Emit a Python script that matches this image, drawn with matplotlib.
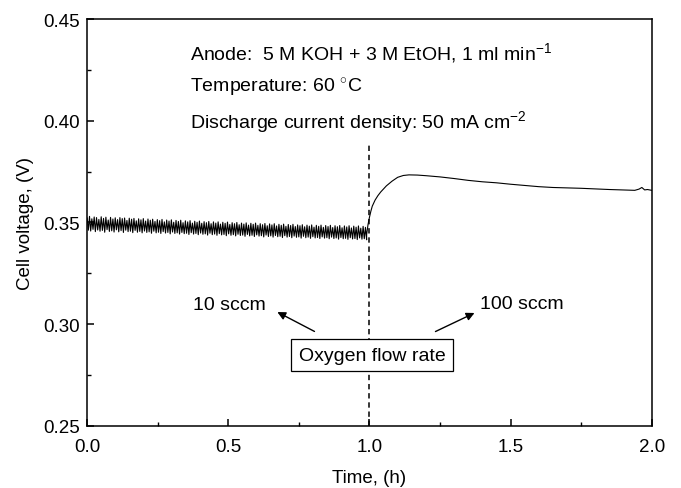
import numpy as np
import matplotlib
matplotlib.use("Agg")
import matplotlib.pyplot as plt
from matplotlib.ticker import MultipleLocator

plt.rcParams['font.family'] = ['Liberation Sans', 'DejaVu Sans']
plt.rcParams['mathtext.fontset'] = 'custom'
plt.rcParams['mathtext.rm'] = 'Liberation Sans'
plt.rcParams['mathtext.it'] = 'Liberation Sans:italic'

# 10 sccm period: noisy voltage (0 - 0.99 h)
noisy_v = [
    0.3522, 0.3462, 0.3530, 0.3458, 0.3518, 0.3466, 0.3527, 0.3455, 0.3524, 0.3463,
    0.3515, 0.3457, 0.3528, 0.3461, 0.3520, 0.3452, 0.3526, 0.3465, 0.3512, 0.3456,
    0.3525, 0.3459, 0.3517, 0.3453, 0.3523, 0.3464, 0.3514, 0.3454, 0.3524, 0.3460,
    0.3519, 0.3451, 0.3522, 0.3462, 0.3510, 0.3455, 0.3521, 0.3457, 0.3516, 0.3450,
    0.3520, 0.3461, 0.3508, 0.3452, 0.3518, 0.3456, 0.3513, 0.3449, 0.3519, 0.3458,
    0.3507, 0.3451, 0.3517, 0.3454, 0.3511, 0.3447, 0.3516, 0.3457, 0.3505, 0.3449,
    0.3514, 0.3452, 0.3509, 0.3446, 0.3515, 0.3455, 0.3503, 0.3448, 0.3512, 0.3451,
    0.3507, 0.3444, 0.3513, 0.3453, 0.3501, 0.3446, 0.3510, 0.3449, 0.3505, 0.3443,
    0.3511, 0.3451, 0.3499, 0.3445, 0.3508, 0.3447, 0.3503, 0.3441, 0.3509, 0.3450,
    0.3497, 0.3443, 0.3506, 0.3446, 0.3501, 0.3440, 0.3507, 0.3448, 0.3496, 0.3442,
    0.3504, 0.3444, 0.3499, 0.3438, 0.3505, 0.3447, 0.3494, 0.3440, 0.3503, 0.3443,
    0.3497, 0.3437, 0.3503, 0.3445, 0.3492, 0.3439, 0.3501, 0.3441, 0.3496, 0.3435,
    0.3502, 0.3444, 0.3490, 0.3437, 0.3499, 0.3440, 0.3494, 0.3434, 0.3500, 0.3442,
    0.3489, 0.3436, 0.3497, 0.3438, 0.3492, 0.3432, 0.3498, 0.3441, 0.3487, 0.3434,
    0.3496, 0.3437, 0.3491, 0.3431, 0.3497, 0.3439, 0.3486, 0.3433, 0.3494, 0.3435,
    0.3489, 0.3429, 0.3495, 0.3438, 0.3484, 0.3431, 0.3493, 0.3434, 0.3488, 0.3428,
    0.3494, 0.3436, 0.3483, 0.3430, 0.3491, 0.3432, 0.3486, 0.3426, 0.3492, 0.3435,
    0.3481, 0.3428, 0.3490, 0.3431, 0.3485, 0.3425, 0.3491, 0.3433, 0.3480, 0.3427,
    0.3488, 0.3429, 0.3484, 0.3423, 0.3489, 0.3432, 0.3479, 0.3425, 0.3487, 0.3428,
    0.3482, 0.3422, 0.3488, 0.3430, 0.3477, 0.3424, 0.3486, 0.3426, 0.3481, 0.3421,
    0.3487, 0.3429, 0.3476, 0.3423, 0.3485, 0.3425, 0.3480, 0.3420, 0.3486, 0.3428,
    0.3475, 0.3421, 0.3484, 0.3424, 0.3479, 0.3418, 0.3485, 0.3426, 0.3474, 0.3420,
    0.3483, 0.3422, 0.3478, 0.3417, 0.3484, 0.3425, 0.3473, 0.3419, 0.3482, 0.3421,
    0.3477, 0.3416, 0.3483, 0.3424, 0.3472, 0.3418, 0.3481, 0.3420, 0.3476, 0.3415,
]
noisy_t = np.linspace(0.0, 0.99, len(noisy_v))

# 100 sccm period
rec_t = [0.99, 0.995, 1.0, 1.005, 1.01, 1.02, 1.03, 1.04, 1.06, 1.08, 1.1, 1.12,
         1.14, 1.17, 1.2, 1.25, 1.3, 1.35, 1.4, 1.45, 1.5, 1.55, 1.6, 1.65, 1.7,
         1.75, 1.8, 1.85, 1.9, 1.94, 1.955, 1.965, 1.975, 1.985, 2.0]
rec_v = [0.3440, 0.3490, 0.3525, 0.3555, 0.3580, 0.3610, 0.3632, 0.3650, 0.3680,
         0.3703, 0.3722, 0.3731, 0.3734, 0.3733, 0.3730, 0.3724, 0.3716, 0.3707,
         0.3700, 0.3695, 0.3688, 0.3682, 0.3676, 0.3672, 0.3670, 0.3668, 0.3665,
         0.3662, 0.3660, 0.3658, 0.3664, 0.3672, 0.3660, 0.3662, 0.3658]

fig = plt.figure(figsize=(6.81, 4.89), dpi=100)
ax = fig.add_axes([0.128, 0.127, 0.829, 0.832])

t = np.concatenate([noisy_t, rec_t])
v = np.concatenate([noisy_v, rec_v])
ax.plot(t, v, color='black', lw=0.8)

ax.plot([1.0, 1.0], [0.25, 0.389], color='black', lw=1.1, linestyle=(0, (3.5, 2.5)))

ax.set_xlim(0.0, 2.0)
ax.set_ylim(0.25, 0.45)
ax.xaxis.set_major_locator(MultipleLocator(0.5))
ax.xaxis.set_minor_locator(MultipleLocator(0.25))
ax.yaxis.set_major_locator(MultipleLocator(0.05))
ax.yaxis.set_minor_locator(MultipleLocator(0.025))
ax.xaxis.set_major_formatter(plt.FormatStrFormatter('%.1f'))
ax.yaxis.set_major_formatter(plt.FormatStrFormatter('%.2f'))
ax.tick_params(which='major', direction='in', length=5, width=1.1, labelsize=13.5)
ax.tick_params(which='minor', direction='in', length=3, width=1.0)
ax.tick_params(axis='x', which='major', pad=9)
ax.tick_params(axis='y', which='major', pad=5)
for s in ax.spines.values():
    s.set_linewidth(1.1)

ax.set_xlabel('Time, (h)', fontsize=13.5, labelpad=10)
ax.set_ylabel('Cell voltage, (V)', fontsize=13.5, labelpad=7)

fs = 14
ax.text(0.365, 0.4338, 'Anode:  5 M KOH + 3 M EtOH, 1 ml min$^{-1}$', fontsize=fs, va='center')
ax.text(0.365, 0.4166, 'Temperature: 60 $^{\\circ}$C', fontsize=fs, va='center')
ax.text(0.365, 0.3999, 'Discharge current density: 50 mA cm$^{-2}$', fontsize=fs, va='center')

ax.text(1.01, 0.2848, 'Oxygen flow rate', fontsize=fs, ha='center', va='center',
        bbox=dict(boxstyle='square,pad=0.4', fc='white', ec='black', lw=0.9))
ax.text(0.375, 0.3096, '10 sccm', fontsize=fs, va='center')
ax.text(1.391, 0.3101, '100 sccm', fontsize=fs, va='center')
ax.annotate('', xy=(0.665, 0.3066), xytext=(0.814, 0.2958),
            arrowprops=dict(arrowstyle='-|>', color='black', lw=1.0, mutation_scale=12))
ax.annotate('', xy=(1.381, 0.3061), xytext=(1.225, 0.2958),
            arrowprops=dict(arrowstyle='-|>', color='black', lw=1.0, mutation_scale=12))

fig.savefig('out.png', dpi=100)
